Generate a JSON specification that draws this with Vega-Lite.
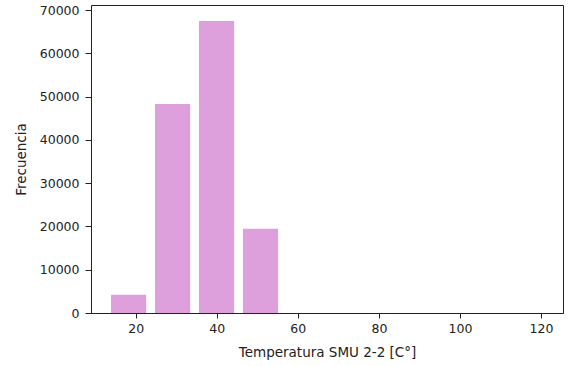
{
  "$schema": "https://vega.github.io/schema/vega-lite/v6.json",
  "autosize": {"type": "none"},
  "width": 472,
  "height": 308,
  "padding": {"left": 91, "top": 5, "right": 5, "bottom": 53},
  "background": "white",
  "data": {
    "values": [
      {"bin_start": 13.91, "bin_end": 22.59, "count": 4200},
      {"bin_start": 24.76, "bin_end": 33.44, "count": 48300},
      {"bin_start": 35.61, "bin_end": 44.29, "count": 67500},
      {"bin_start": 46.46, "bin_end": 55.14, "count": 19500}
    ]
  },
  "mark": {"type": "bar", "color": "#DDA0DD", "clip": true},
  "encoding": {
    "x": {
      "field": "bin_start",
      "type": "quantitative",
      "scale": {"domain": [8.97, 125.43], "nice": false, "zero": false},
      "axis": {
        "values": [20, 40, 60, 80, 100, 120],
        "title": "Temperatura SMU 2-2 [C°]",
        "grid": false,
        "tickSize": 5,
        "labelPadding": 4,
        "titlePadding": 11
      }
    },
    "x2": {"field": "bin_end"},
    "y": {
      "field": "count",
      "type": "quantitative",
      "scale": {"domain": [0, 71200], "nice": false},
      "axis": {
        "values": [0, 10000, 20000, 30000, 40000, 50000, 60000, 70000],
        "format": "d",
        "title": "Frecuencia",
        "grid": false,
        "tickSize": 6,
        "labelPadding": 6,
        "titlePadding": 11
      }
    },
    "y2": {"datum": 0}
  },
  "config": {
    "view": {"stroke": "#222", "strokeWidth": 1},
    "axis": {
      "domainColor": "#222",
      "tickColor": "#222",
      "labelColor": "#222",
      "labelFont": "DejaVu Sans",
      "labelFontSize": 12.5,
      "titleFont": "DejaVu Sans",
      "titleFontSize": 13.5,
      "titleFontWeight": "normal",
      "titleColor": "#222"
    }
  }
}
